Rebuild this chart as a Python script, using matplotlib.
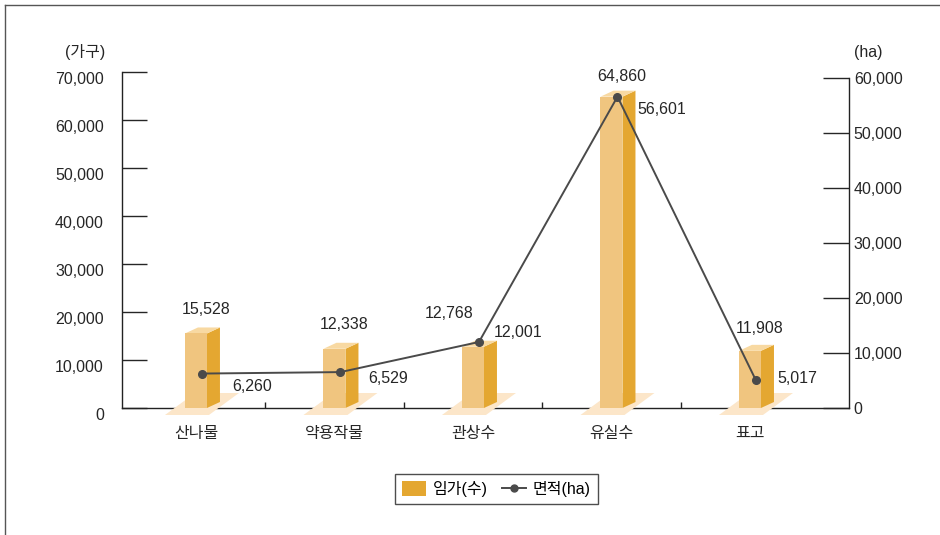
import matplotlib
matplotlib.use('Agg')
import matplotlib.pyplot as plt
import matplotlib.transforms as mtransforms
from matplotlib.patches import Polygon, Patch
from matplotlib.lines import Line2D

plt.rcParams['font.family'] = ['Liberation Sans', 'Noto Sans CJK KR']

categories = ['산나물', '약용작물', '관상수', '유실수', '표고']
households = [15528, 12338, 12768, 64860, 11908]   # 임가(수), left axis
area_ha = [6260, 6529, 12001, 56601, 5017]          # 면적(ha), right axis
left_ticks = [0, 10000, 20000, 30000, 40000, 50000, 60000, 70000]
right_ticks = [0, 10000, 20000, 30000, 40000, 50000, 60000]

# label offsets in pixels (style only)
bar_lab_off = [(10, 24), (10, 24), (-24, 33), (10, 20), (10, 22)]
line_lab_off = [(30, -13), (28, -6), (15, 9), (20, -13), (21, 2)]

FRONT = '#f0c57f'
SIDE = '#e4a731'
TOP = '#f8d9a2'
SHADOW = '#fce6c9'
LINEC = '#4a4a4a'
TXT = '#262626'
FS = 11.5

W, H = 940, 535
fig = plt.figure(figsize=(W / 100, H / 100), dpi=100)
ax1 = fig.add_axes([122 / W, 127 / H, 727 / W, 336 / H])
ax2 = fig.add_axes([122 / W, 127 / H, 727 / W, 330 / H])
ax2.patch.set_alpha(0)

xlim = (-0.534, 4.715)
for ax in (ax1, ax2):
    ax.set_xlim(*xlim)
ax1.set_ylim(0, 70000)
ax2.set_ylim(0, 60000)

px = (xlim[1] - xlim[0]) / 727   # data per pixel, x
py = 70000 / 336                 # data per pixel, y (left axis)

for i, h in enumerate(households):
    shadow = Polygon([(i - 31 * px, -7 * py), (i + 13 * px, -7 * py),
                      (i + 43 * px, 15 * py), (i - 1 * px, 15 * py)],
                     closed=True, fc=SHADOW, ec='none', zorder=3, clip_on=False)
    side = Polygon([(i + 11 * px, 0), (i + 24 * px, 6 * py),
                    (i + 24 * px, h + 6 * py), (i + 11 * px, h)],
                   closed=True, fc=SIDE, ec='none', zorder=4, clip_on=False)
    top = Polygon([(i - 11 * px, h), (i + 2 * px, h + 6 * py),
                   (i + 24 * px, h + 6 * py), (i + 11 * px, h)],
                  closed=True, fc=TOP, ec='none', zorder=4, clip_on=False)
    front = Polygon([(i - 11 * px, 0), (i + 11 * px, 0),
                     (i + 11 * px, h), (i - 11 * px, h)],
                    closed=True, fc=FRONT, ec='none', zorder=5, clip_on=False)
    for p in (shadow, side, top, front):
        ax1.add_patch(p)
    ax1.annotate(f'{h:,}', (i, h), xytext=bar_lab_off[i], textcoords='offset pixels',
                 ha='center', va='center', fontsize=FS, color=TXT,
                 annotation_clip=False)

xs = [i + 6 * px for i in range(len(categories))]
ax2.plot(xs, area_ha, color=LINEC, lw=1.4, marker='o', ms=5.5, zorder=6, clip_on=False)
for i, v in enumerate(area_ha):
    ax2.annotate(f'{v:,}', (xs[i], v), xytext=line_lab_off[i], textcoords='offset pixels',
                 ha='left', va='center', fontsize=FS, color=TXT,
                 annotation_clip=False)

# axes styling
for s in ('top', 'right'):
    ax1.spines[s].set_visible(False)
for s in ('top', 'left', 'bottom'):
    ax2.spines[s].set_visible(False)
for ax in (ax1, ax2):
    for s in ax.spines.values():
        s.set_color('#222222')
        s.set_linewidth(1.0)

ax1.set_yticks(left_ticks)
ax1.set_yticklabels([f'{t:,}' for t in left_ticks])
ax1.tick_params(axis='y', direction='in', length=18, width=1, pad=13,
                labelsize=FS, colors=TXT)
shift = mtransforms.ScaledTranslation(0, -0.055, fig.dpi_scale_trans)
for lbl in ax1.get_yticklabels():
    lbl.set_transform(lbl.get_transform() + shift)

ax1.set_xticks(range(len(categories)))
ax1.set_xticklabels(categories)
ax1.tick_params(axis='x', which='major', length=0, pad=13, labelsize=FS, colors=TXT)
ax1.set_xticks([0.5, 1.5, 2.5, 3.5], minor=True)
ax1.tick_params(axis='x', which='minor', direction='in', length=4.5, width=1, color='#222222')

ax2.yaxis.tick_right()
ax2.set_yticks(right_ticks)
ax2.set_yticklabels([f'{t:,}' for t in right_ticks])
ax2.tick_params(axis='y', direction='in', length=18.5, width=1, pad=3.5,
                labelsize=FS, colors=TXT)
ax2.set_xticks([])

# units
fig.text(105 / W, 1 - 52 / H, '(가구)', ha='right', va='center', fontsize=FS, color=TXT)
fig.text(854 / W, 1 - 52 / H, '(ha)', ha='left', va='center', fontsize=FS, color=TXT)

# legend
handles = [Patch(fc=SIDE, ec='none'),
           Line2D([], [], color=LINEC, lw=1.4, marker='o', ms=5)]
leg = fig.legend(handles, ['임가(수)', '면적(ha)'], loc='center',
                 bbox_to_anchor=(496.5 / W, 1 - 489 / H), ncol=2, fontsize=FS,
                 frameon=True, fancybox=False, edgecolor='#222222',
                 handlelength=1.5, handleheight=1.05, handletextpad=0.4,
                 columnspacing=0.9, borderpad=0.45)
leg.get_frame().set_linewidth(1.0)

# outer frame lines
fig.add_artist(Line2D([4.5 / W, 4.5 / W], [0, 1 - 5 / H], color='#555555', lw=1))
fig.add_artist(Line2D([4.5 / W, 1], [1 - 5 / H, 1 - 5 / H], color='#555555', lw=1))

fig.savefig('out.png', dpi=100)
